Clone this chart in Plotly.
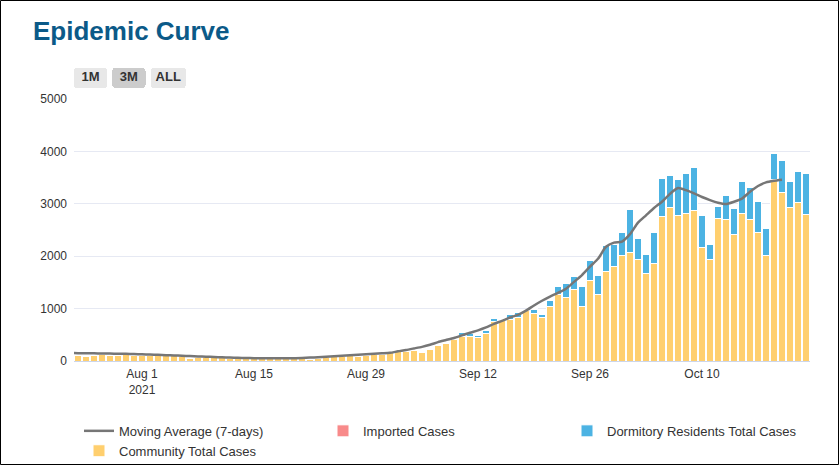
import pandas as pd
import plotly.graph_objects as go

# ---- data ----
bar_start = "2021-07-24"
community = [110, 85, 112, 115, 112, 110, 115, 108, 105, 108, 102, 100, 98, 95, 48, 60,
             62, 58, 60, 55, 58, 55, 52, 50, 55, 48, 52, 45, 40, 30, 55, 68,
             78, 80, 98, 80, 100, 120, 122, 160, 172, 185, 205, 155, 218, 288,
             332, 412, 462, 475, 450, 525, 745, 765, 800, 830, 960, 910, 830, 1035,
             1270, 1215, 1370, 1045, 1533, 1275, 1715, 1810, 2013, 2074, 1941, 1673,
             1864, 2754, 2933, 2777, 2818, 2863, 2170, 1941, 2723, 2691, 2418, 2818,
             2691, 2456, 2004, 3473, 3219, 2933, 3034, 2800]
dormitory = [0, 0, 0, 0, 0, 0, 0, 0, 0, 0, 0, 0, 0, 0, 0, 0,
             0, 0, 0, 0, 0, 0, 0, 0, 0, 0, 0, 0, 5, 12, 20, 0,
             2, 0, 0, 0, 3, 10, 2, 0, 2, 2, 2, 0, 2, 2,
             2, 4, 90, 50, 35, 50, 70, 12, 85, 88, 5, 78, 62, 125,
             155, 270, 250, 370, 390, 348, 495, 420, 447, 815, 392, 364,
             580, 720, 605, 678, 752, 821, 610, 288, 230, 472, 497, 612,
             625, 580, 530, 480, 612, 484, 574, 770]
imported = [5, 5, 4, 3, 4, 5, 3, 4, 4, 3, 4, 5, 5, 4, 4, 3,
            4, 4, 5, 4, 3, 5, 4, 3, 4, 4, 3, 4, 3, 3, 3, 3,
            3, 3, 4, 3, 5, 4, 4, 5, 4, 4, 3, 4, 3, 3,
            3, 4, 4, 4, 4, 25, 5, 5, 5, 5, 20, 5, 5, 4,
            6, 16, 5, 15, 4, 5, 12, 5, 5, 6, 5, 5,
            5, 5, 18, 5, 5, 5, 6, 4, 5, 5, 5, 5,
            5, 5, 4, 16, 5, 5, 5, 5]

ma_start = "2021-07-23"
moving_avg = [155, 150, 148, 146, 144, 142, 139, 136, 132, 127, 122, 117, 112, 106, 100,
              94, 88, 82, 76, 70, 65, 60, 57, 54, 52, 51, 51, 52, 54, 57,
              65, 72, 80, 90, 100, 110, 118, 128, 137, 146, 156, 185, 210, 240,
              270, 310, 360, 400, 440, 490, 540, 585, 640, 710, 765, 830, 880,
              960, 1060, 1150, 1230, 1300, 1380, 1510, 1640, 1800, 1950, 2180,
              2260, 2280, 2420, 2640, 2780, 2920, 3040, 3190, 3300, 3260, 3200,
              3130, 3070, 3020, 2995, 3040, 3100, 3230, 3340, 3410, 3440, 3460]

tick_dates = ["2021-08-01", "2021-08-15", "2021-08-29", "2021-09-12", "2021-09-26", "2021-10-10"]
tick_text = ["Aug 1<br>2021", "Aug 15", "Aug 29", "Sep 12", "Sep 26", "Oct 10"]
y_ticks = [0, 1000, 2000, 3000, 4000, 5000]
button_labels = ["1M", "3M", "ALL"]

bar_dates = pd.date_range(bar_start, periods=len(community), freq="D")
ma_dates = pd.date_range(ma_start, periods=len(moving_avg), freq="D")

C_COMM = "#ffcf6e"
C_DORM = "#4cb3e3"
C_IMP = "#f88a8a"
C_LINE = "#767676"
TXT = "#333333"
FONT = "Liberation Sans, Arial, sans-serif"
THIN = "\u2009"

fig = go.Figure()
fig.add_trace(go.Bar(x=bar_dates, y=community, name="Community Total Cases",
                     marker=dict(color=C_COMM, line=dict(color="white", width=1)),
                     legendrank=4))
fig.add_trace(go.Bar(x=bar_dates, y=dormitory, name="Dormitory Residents Total Cases",
                     marker=dict(color=C_DORM, line=dict(color="white", width=1)),
                     legendrank=3))
fig.add_trace(go.Bar(x=bar_dates, y=imported, name="Imported Cases",
                     marker=dict(color=C_IMP, line=dict(color="white", width=1)),
                     legendrank=2))
fig.add_trace(go.Scatter(x=ma_dates, y=moving_avg, name="Moving Average (7-days)",
                         mode="lines", line=dict(color=C_LINE, width=2.5, shape="spline", smoothing=0.6),
                         legendrank=1))

W, H = 840, 466
L, R, T, B = 74, 30, 99, 105
pw, ph = W - L - R, H - T - B

fig.update_layout(
    width=W, height=H,
    margin=dict(l=L, r=R, t=T, b=B, autoexpand=False),
    barmode="stack",
    bargap=0.12,
    plot_bgcolor="white",
    paper_bgcolor="white",
    font=dict(family=FONT, size=12, color=TXT),
    title=dict(text="Epidemic Curve", x=33 / W, xanchor="left", xref="container",
               y=1 - 31 / H, yanchor="middle", yref="container",
               font=dict(family=FONT, size=26, color="#0b5a88", weight="bold")),
    showlegend=True,
    legend=dict(orientation="h", x=5 / pw, xanchor="left", y=-0.2095, yanchor="top",
                entrywidth=199, entrywidthmode="pixels",
                font=dict(family=FONT, size=13, color=TXT),
                traceorder="normal", itemwidth=30, bgcolor="rgba(0,0,0,0)"),
    xaxis=dict(
        type="date",
        range=["2021-07-23 12:00", "2021-10-23 12:00"],
        tickvals=tick_dates, ticktext=tick_text,
        showgrid=False, showline=True, linecolor="#ccd6eb", linewidth=1,
        ticks="", ticklabelstandoff=2, tickfont=dict(family=FONT, size=12, color=TXT),
        rangeselector=dict(
            buttons=[dict(count=1, label=THIN + button_labels[0] + THIN, step="month", stepmode="backward"),
                     dict(count=3, label=THIN + button_labels[1] + THIN, step="month", stepmode="backward"),
                     dict(step="all", label=button_labels[2])],
            x=0, xanchor="left", y=1.042, yanchor="bottom",
            bgcolor="#e8e8e8", activecolor="#cccccc",
            font=dict(family=FONT, size=13, color=TXT, weight="bold"),
        ),
    ),
    yaxis=dict(
        range=[0, 5000], tickvals=y_ticks,
        showgrid=True, gridcolor="#e6e9f3", gridwidth=1,
        zeroline=False, showline=False, ticklabelstandoff=6,
        tickfont=dict(family=FONT, size=12, color=TXT),
    ),
    shapes=[dict(type="rect", xref="paper", yref="paper",
                 x0=(0.5 - L) / pw, x1=(W - 1.5 - L) / pw,
                 y0=(ph + T - (H - 1.5)) / ph, y1=(ph + T - 0.5) / ph,
                 line=dict(color="black", width=1), fillcolor="rgba(0,0,0,0)", layer="above")],
)

fig.write_html("out.html", config={"displayModeBar": False},
               post_script="document.body.style.margin='0px';")
